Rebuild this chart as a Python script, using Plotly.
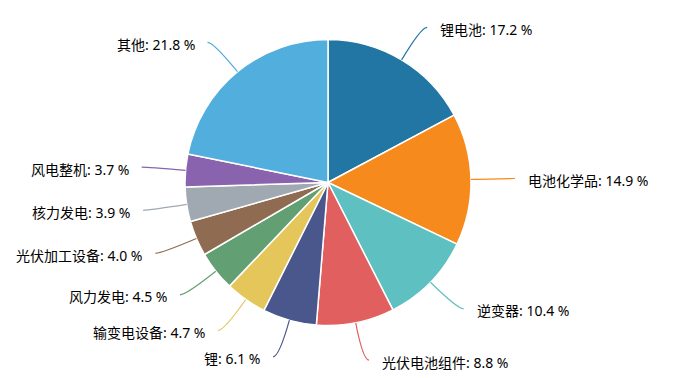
import math
import plotly.graph_objects as go

categories = ["锂电池", "电池化学品", "逆变器", "光伏电池组件", "锂", "输变电设备",
              "风力发电", "光伏加工设备", "核力发电", "风电整机", "其他"]
values = [17.2, 14.9, 10.4, 8.8, 6.1, 4.7, 4.5, 4.0, 3.9, 3.7, 21.8]
colors = ["#2276A3", "#F68A1C", "#5EC0C1", "#E15F5F", "#4A578C", "#E4C65A",
          "#62A073", "#8E6B51", "#A0A9B1", "#8A63AF", "#52AEDD"]

# the page body adds an 8px offset; work in figure pixels
OFF = 8
W, H = 680 - OFF, 378 - OFF
CX, CY, R = 328 - OFF, 182.5 - OFF, 143
L1, L2, GAP = 38, 6, 12
FONT = "Noto Sans, Noto Sans CJK SC, sans-serif"

fig = go.Figure()
fig.add_trace(go.Pie(
    labels=categories, values=values, sort=False, direction="clockwise",
    rotation=0, textinfo="none", hoverinfo="label+percent",
    marker=dict(colors=colors, line=dict(color="white", width=1.5)),
    domain=dict(x=[(CX - R) / W, (CX + R) / W], y=[(H - CY - R) / H, (H - CY + R) / H]),
    showlegend=False,
))

total = sum(values)
shapes = []
annotations = []
cum = 0.0
for cat, v, col in zip(categories, values, colors):
    mid = (cum + v / 2) / total * 2 * math.pi
    cum += v
    dx, dy = math.sin(mid), -math.cos(mid)
    ax, ay = CX + R * dx, CY + R * dy
    bx, by = CX + (R + L1) * dx, CY + (R + L1) * dy
    side = 1 if dx >= 0 else -1
    cx_, cy_ = bx + side * L2, by
    shapes.append(dict(type="path", xref="x", yref="y",
                       path=f"M {ax:.1f} {ay:.1f} Q {bx:.1f} {by:.1f} {cx_:.1f} {cy_:.1f}",
                       line=dict(color=col, width=1.2)))
    annotations.append(dict(x=cx_ + side * GAP, y=cy_ + 2, xref="x", yref="y",
                            text=f"{cat}: {v:.1f} %", showarrow=False,
                            xanchor="left" if side > 0 else "right", yanchor="middle",
                            borderpad=0,
                            font=dict(family=FONT, size=14, color="#000000")))

fig.update_layout(
    width=W, height=H, margin=dict(l=0, r=0, t=0, b=0),
    paper_bgcolor="white", plot_bgcolor="rgba(0,0,0,0)",
    xaxis=dict(range=[0, W], visible=False, fixedrange=True),
    yaxis=dict(range=[H, 0], visible=False, fixedrange=True),
    shapes=shapes, annotations=annotations,
)
fig.write_html("out.html")
